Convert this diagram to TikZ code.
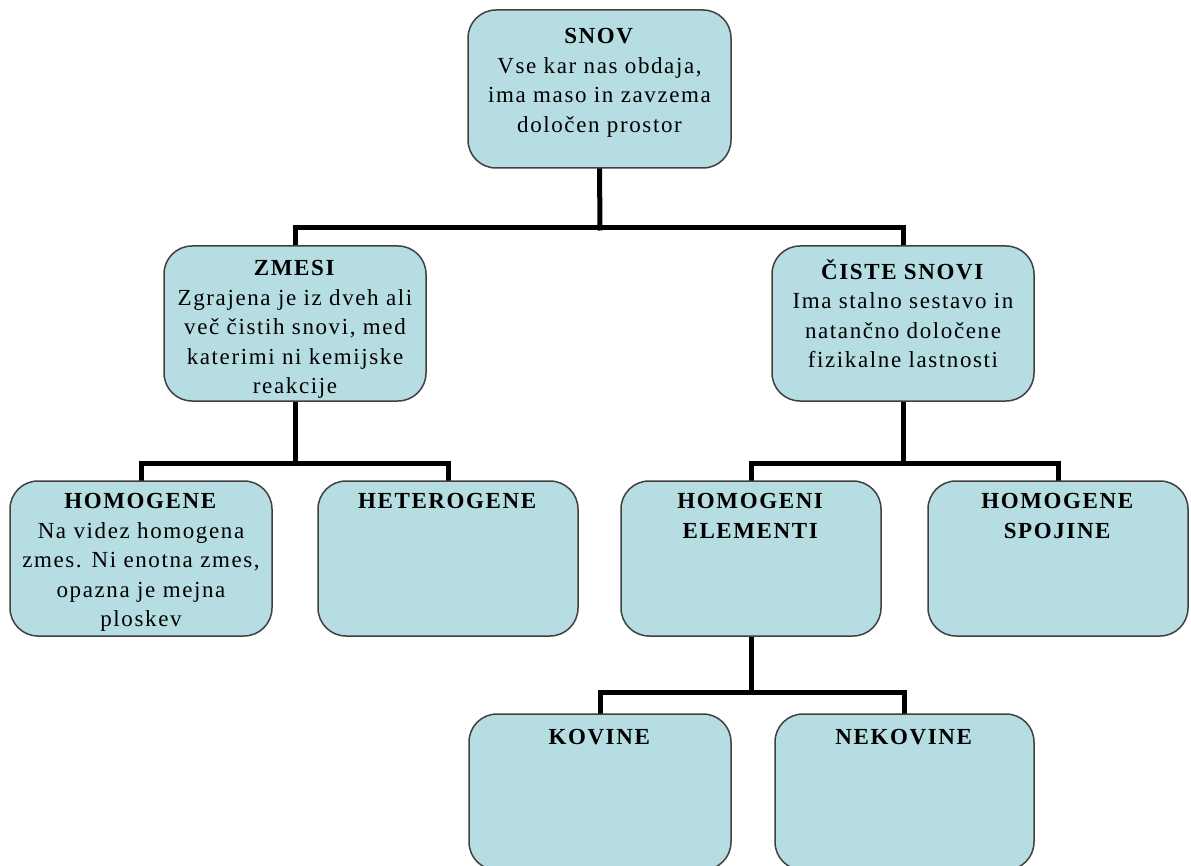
\documentclass[tikz,border=0pt]{standalone}
\usepackage{fontspec}
\setmainfont{Liberation Serif}[LetterSpace=7]
\usetikzlibrary{backgrounds}
\definecolor{boxfill}{RGB}{181,221,226}
\definecolor{boxline}{RGB}{64,64,64}
\tikzset{
  box/.style={draw=boxline, line width=1.5pt, fill=boxfill, rounded corners=28pt, minimum height=155pt, inner sep=0pt},
  lbl/.style={anchor=north, align=center, inner sep=0pt, font=\fontsize{23}{29.5}\selectfont},
  conn/.style={line width=5pt, black, line cap=rect}
}
\begin{document}
\begin{tikzpicture}[x=1pt,y=-1pt]
\clip (0,0) rectangle (1191,866);
% junction coordinates
\coordinate (j1) at (600,228);
\coordinate (j2) at (295,463);
\coordinate (j3) at (903,463);
\coordinate (j4) at (751,692);
% boxes (shapes)
\node[box, minimum width=263pt, minimum height=158pt] (snov) at (599.5,89) {};
\node[box, minimum width=262pt] (zmesi) at (295,323.5) {};
\node[box, minimum width=262pt] (ciste) at (903,323.5) {};
\node[box, minimum width=262pt] (homogene) at (141,558.5) {};
\node[box, minimum width=260pt] (hetero) at (448,558.5) {};
\node[box, minimum width=260pt] (homel) at (751,558.5) {};
\node[box, minimum width=260pt] (homsp) at (1058,558.5) {};
\node[box, minimum width=262pt, minimum height=156pt] (kovine) at (600,792) {};
\node[box, minimum width=259pt, minimum height=156pt] (nekovine) at (904.5,792) {};
% connectors
\begin{scope}[on background layer]
\fill[white] (0,0) rectangle (1191,866);
\draw[conn] (snov.south) -- (j1);
\draw[conn] (zmesi.north) |- (j1) -| (ciste.north);
\draw[conn] (zmesi.south) -- (j2);
\draw[conn] (homogene.north) |- (j2) -| (hetero.north);
\draw[conn] (ciste.south) -- (j3);
\draw[conn] (homel.north) |- (j3) -| (homsp.north);
\draw[conn] (homel.south) -- (j4);
\draw[conn] (kovine.north) |- (j4) -| (nekovine.north);
\end{scope}
% texts
\node[lbl] (snovt) at ([yshift=-19pt]snov.north) {\textbf{SNOV}\\Vse kar nas obdaja,\\ima maso in zavzema\\določen prostor};
\node[lbl] (zmesit) at ([yshift=-15pt]zmesi.north) {\textbf{ZMESI}\\Zgrajena je iz dveh ali\\več čistih snovi, med\\katerimi ni kemijske\\reakcije};
\node[lbl] (cistet) at ([yshift=-14pt]ciste.north) {\textbf{ČISTE SNOVI}\\Ima stalno sestavo in\\natančno določene\\fizikalne lastnosti};
\node[lbl] (homogenet) at ([yshift=-13pt]homogene.north) {\textbf{HOMOGENE}\\Na videz homogena\\zmes. Ni enotna zmes,\\opazna je mejna\\ploskev};
\node[lbl] (heterot) at ([yshift=-13pt]hetero.north) {\textbf{HETEROGENE}};
\node[lbl] (homelt) at ([yshift=-13pt]homel.north) {\textbf{HOMOGENI}\\\textbf{ELEMENTI}};
\node[lbl] (homspt) at ([yshift=-13pt]homsp.north) {\textbf{HOMOGENE}\\\textbf{SPOJINE}};
\node[lbl] (kovinet) at ([yshift=-16pt]kovine.north) {\textbf{KOVINE}};
\node[lbl] (nekovinet) at ([yshift=-16pt]nekovine.north) {\textbf{NEKOVINE}};
\end{tikzpicture}
\end{document}
